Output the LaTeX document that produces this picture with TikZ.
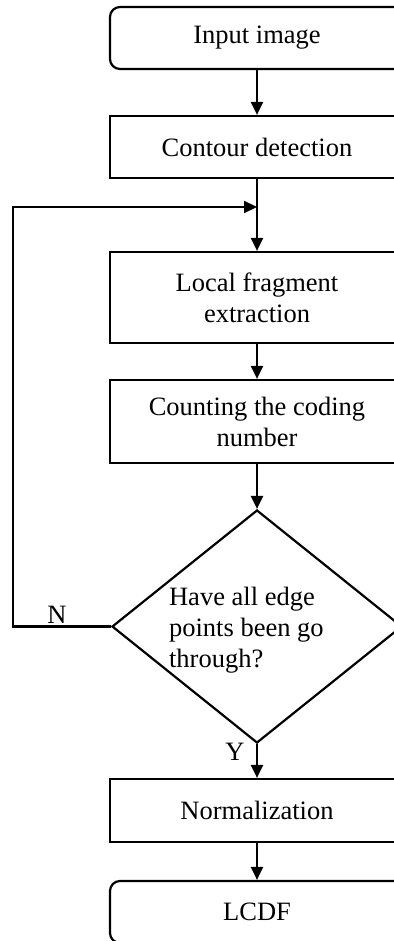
\documentclass[tikz,border=0pt]{standalone}
\usepackage{fontspec}
\setmainfont{Liberation Serif}
\usetikzlibrary{shapes.geometric,arrows.meta}
\begin{document}
\begin{tikzpicture}[x=1pt,y=-1pt,
  line width=2.2pt,
  every node/.style={font=\fontsize{26.5}{31}\selectfont},
  procbox/.style={draw,rectangle,minimum width=294pt,inner sep=0pt,align=center},
  termbox/.style={procbox,rounded corners=10pt},
  decision/.style={draw,diamond,minimum width=290pt,minimum height=233pt,inner sep=0pt},
  arr/.style={-{Triangle[length=13pt,width=12pt]}},
  tag/.style={inner sep=0pt}]
\useasboundingbox (0,0) rectangle (393,941);

% process chain
\node[termbox,minimum height=62pt] (inp) at (257,38) {Input image};
\node[procbox,minimum height=62pt] (cont) at (257,147) {Contour detection};
\node[procbox,minimum height=91pt] (loc) at (257,297.5) {Local fragment\\extraction};
\node[procbox,minimum height=83pt] (cnt) at (257,421.5) {Counting the coding\\number};
\node[decision] (dia) at (257,626.5) {};
\node[tag,anchor=west,align=left] (q) at (168,630) {Have all edge\\points been go\\through?};
\node[procbox,minimum height=63pt] (norm) at (257,810.5) {Normalization};
\node[termbox,minimum height=62pt] (out) at (257,912) {LCDF};

% junction where the loop rejoins the trunk
\coordinate (j) at (257,207);
\coordinate (nc) at (13,626.5);

\draw[arr] (inp) -- (cont);
\draw (cont.south) -- (j);
\draw[arr] (j) -- (loc.north);
\draw[arr] (loc) -- (cnt);
\draw[arr] (cnt) -- (dia.north);
\draw[arr] (dia.south) -- (norm.north);
\draw[arr] (norm) -- (out);

% loop back when not all edge points are visited
\draw[arr] (dia.west) -- (nc) |- (j);

\node[tag] (nlab) at (57,615) {N};
\node[tag] (ylab) at (235,752) {Y};
\end{tikzpicture}
\end{document}
